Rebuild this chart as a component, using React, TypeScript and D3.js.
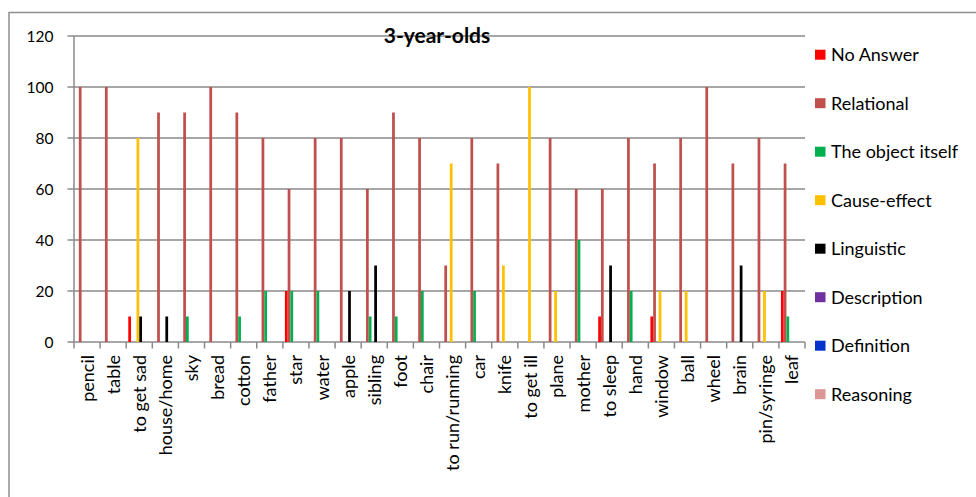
import React from "react";
import * as d3 from "d3";

const categories = ["pencil","table","to get sad","house/home","sky","bread","cotton","father","star","water","apple","sibling","foot","chair","to run/running","car","knife","to get ill","plane","mother","to sleep","hand","window","ball","wheel","brain","pin/syringe","leaf"];

const seriesNames = ["No Answer","Relational","The object itself","Cause-effect","Linguistic","Description","Definition","Reasoning"];
const seriesColors = ["#FF0000","#C0504D","#00B050","#FFC000","#000000","#7030A0","#0033CC","#D99694"];

const noAnswer =    [0,0,10,0,0,0,0,0,20,0,0,0,0,0,0,0,0,0,0,0,10,0,10,0,0,0,0,20];
const relational =  [100,100,0,90,90,100,90,80,60,80,80,60,90,80,30,80,70,0,80,60,60,80,70,80,100,70,80,70];
const objectItself =[0,0,0,0,10,0,10,20,20,20,0,10,10,20,0,20,0,0,0,40,0,20,0,0,0,0,0,10];
const causeEffect = [0,0,80,0,0,0,0,0,0,0,0,0,0,0,70,0,30,100,20,0,0,0,20,20,0,0,20,0];
const linguistic =  [0,0,10,10,0,0,0,0,0,0,20,30,0,0,0,0,0,0,0,0,30,0,0,0,0,30,0,0];
const description = categories.map(() => 0);
const definition = categories.map(() => 0);
const reasoning = categories.map(() => 0);

const seriesValues = [noAnswer, relational, objectItself, causeEffect, linguistic, description, definition, reasoning];

const yTicks = [0, 20, 40, 60, 80, 100, 120];

const FONT = "Lato, 'Open Sans', sans-serif";

export default function App() {
  const W = 976, H = 497;
  const left = 74, right = 805, top = 36, bottom = 342;
  const x0 = d3.scaleBand<string>().domain(categories).range([left, right]).paddingInner(0).paddingOuter(0);
  const bw = x0.bandwidth();
  const gapHalf = (bw * 0.75) / 9.5;
  const x1 = d3.scaleBand<number>().domain(d3.range(seriesNames.length)).range([gapHalf, bw - gapHalf]).padding(0);
  const y = d3.scaleLinear().domain([0, 120]).range([bottom, top]);
  const grid = "#8a8a8a";

  return (
    <svg width={W} height={H} style={{ position: "absolute", left: 0, top: 0, background: "#fff" }} fontFamily={FONT}>
      <rect x={9} y={12.5} width={1000} height={600} fill="#fff" stroke="#8e8e8e" strokeWidth={1.5} />
      {yTicks.map((t) => (
        <g key={t}>
          <line x1={left - 6.5} x2={right} y1={y(t)} y2={y(t)} stroke={grid} strokeWidth={1.5} />
          <text x={53.5} y={y(t) + 5.5} textAnchor="end" fontSize={15.5} fill="#000">{t}</text>
        </g>
      ))}
      <line x1={left} x2={left} y1={top} y2={bottom} stroke={grid} strokeWidth={1.5} />
      {categories.map((c, i) => (
        <line key={"tk" + i} x1={x0(c)!} x2={x0(c)!} y1={bottom} y2={bottom + 6.5} stroke={grid} strokeWidth={1.5} />
      ))}
      <line x1={right} x2={right} y1={bottom} y2={bottom + 6.5} stroke={grid} strokeWidth={1.5} />
      {seriesValues.map((vals, s) =>
        vals.map((v, i) =>
          v > 0 ? (
            <rect key={s + "-" + i} x={x0(categories[i])! + x1(s)!} width={x1.bandwidth()} y={y(v)} height={y(0) - y(v)} fill={seriesColors[s]} />
          ) : null
        )
      )}
      {categories.map((c, i) => {
        const cx = x0(c)! + bw / 2 + 6.5;
        return (
          <text key={"xl" + i} transform={`translate(${cx},355) rotate(-90)`} textAnchor="end" fontSize={18} fill="#000">{c}</text>
        );
      })}
      <text x={437} y={43} textAnchor="middle" fontSize={21} fontWeight="bold" fill="#000">3-year-olds</text>
      {seriesNames.map((n, s) => {
        const cy = 54.7 + s * 48.5;
        return (
          <g key={"lg" + s}>
            <rect x={815} y={cy - 5} width={10.5} height={10} fill={seriesColors[s]} />
            <text x={831} y={cy + 6.3} fontSize={18} fill="#000">{n}</text>
          </g>
        );
      })}
    </svg>
  );
}
